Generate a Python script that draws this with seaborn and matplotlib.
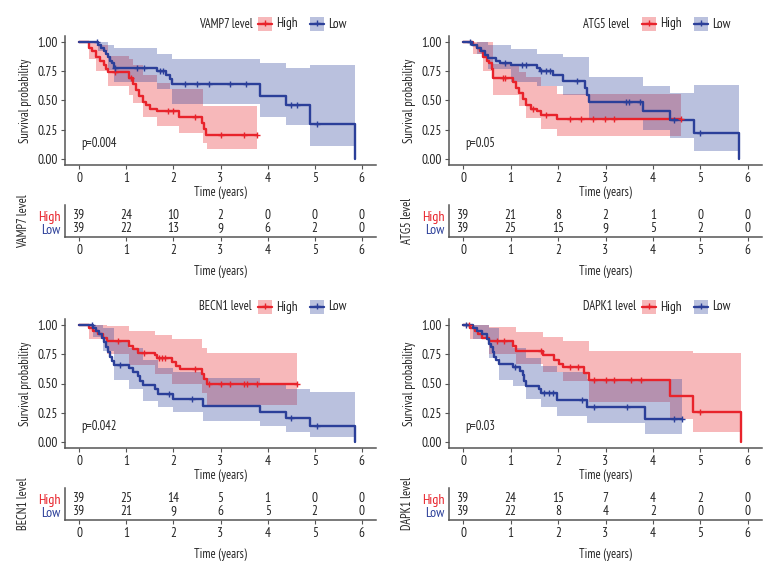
import numpy as np
import seaborn as sns
import matplotlib.pyplot as plt
from matplotlib.patches import Rectangle
from matplotlib.lines import Line2D

sns.set_theme(style="white")
plt.rcParams["font.family"] = ["PT Sans Narrow", "DejaVu Sans"]

RED = "#E8232B"
BLUE = "#2B3F99"
FS = 9

years = [0, 1, 2, 3, 4, 5, 6]

# ---- VAMP7 ----
vamp7_high_t = [0, 0.20, 0.28, 0.35, 0.45, 0.52, 0.58, 0.62, 1.05, 1.15, 1.20, 1.28, 1.35, 1.42, 1.50, 1.65, 2.12, 2.60, 2.65, 2.70, 3.78]
vamp7_high_s = [1.00, 0.95, 0.92, 0.87, 0.84, 0.80, 0.77, 0.74, 0.69, 0.64, 0.59, 0.54, 0.49, 0.46, 0.43, 0.41, 0.36, 0.31, 0.26, 0.21, 0.21]
vamp7_high_cens = [0.77, 1.10, 1.88, 2.00, 2.45, 3.00, 3.50, 3.78]
vamp7_high_ci_t = [0, 0.20, 0.35, 0.62, 1.05, 1.15, 1.35, 1.65, 1.92, 2.12, 2.62, 2.72, 3.78]
vamp7_high_lo = [1.00, 0.85, 0.75, 0.62, 0.55, 0.48, 0.36, 0.28, 0.28, 0.22, 0.14, 0.09, 0.09]
vamp7_high_hi = [1.00, 1.00, 0.97, 0.88, 0.85, 0.80, 0.72, 0.65, 0.60, 0.60, 0.455, 0.455, 0.455]

vamp7_low_t = [0, 0.40, 0.47, 0.53, 0.58, 0.62, 0.66, 0.70, 0.75, 1.65, 1.85, 1.92, 1.98, 3.83, 4.40, 4.90, 5.85]
vamp7_low_s = [1.00, 0.97, 0.95, 0.92, 0.90, 0.87, 0.84, 0.82, 0.78, 0.75, 0.72, 0.68, 0.64, 0.54, 0.46, 0.30, 0.00]
vamp7_low_cens = [0.38, 0.77, 1.23, 1.37, 1.71, 1.79, 2.25, 2.51, 2.76, 3.20, 3.55, 4.49, 4.63, 5.04]
vamp7_low_ci_t = [0, 0.40, 0.62, 0.75, 1.65, 1.98, 3.83, 4.40, 4.90, 5.85]
vamp7_low_lo = [1.00, 0.92, 0.76, 0.66, 0.60, 0.47, 0.36, 0.29, 0.11, 0.11]
vamp7_low_hi = [1.00, 1.00, 0.97, 0.95, 0.90, 0.85, 0.82, 0.78, 0.80, 0.80]

vamp7_risk_high = [39, 24, 10, 2, 0, 0, 0]
vamp7_risk_low = [39, 22, 13, 9, 6, 2, 0]

# ---- ATG5 ----
atg5_high_t = [0, 0.21, 0.30, 0.35, 0.42, 0.50, 0.55, 0.60, 0.63, 1.05, 1.12, 1.18, 1.25, 1.32, 1.42, 1.55, 1.65, 1.97, 4.60]
atg5_high_s = [1.00, 0.97, 0.95, 0.92, 0.87, 0.84, 0.82, 0.77, 0.69, 0.66, 0.61, 0.56, 0.51, 0.46, 0.43, 0.41, 0.38, 0.34, 0.34]
atg5_high_cens = [0.84, 0.88, 1.47, 1.75, 2.25, 2.49, 2.74, 2.98, 3.17, 4.60]
atg5_high_ci_t = [0, 0.21, 0.42, 0.63, 1.18, 1.32, 1.65, 1.97, 4.60]
atg5_high_lo = [1.00, 0.90, 0.75, 0.55, 0.45, 0.35, 0.26, 0.20, 0.20]
atg5_high_hi = [1.00, 1.00, 1.00, 0.81, 0.74, 0.70, 0.62, 0.555, 0.555]

atg5_low_t = [0, 0.18, 0.30, 0.38, 0.45, 0.52, 0.70, 0.78, 1.00, 1.55, 1.62, 1.90, 2.10, 2.56, 2.60, 2.65, 3.80, 4.35, 4.87, 5.82]
atg5_low_s = [1.00, 0.97, 0.95, 0.92, 0.89, 0.86, 0.84, 0.82, 0.80, 0.78, 0.755, 0.72, 0.67, 0.61, 0.55, 0.49, 0.41, 0.33, 0.22, 0.00]
atg5_low_cens = [0.15, 0.88, 1.23, 1.33, 1.65, 1.75, 1.82, 2.40, 3.44, 3.50, 3.72, 4.45, 5.00]
atg5_low_ci_t = [0, 0.30, 0.52, 1.00, 1.55, 2.10, 2.65, 3.80, 4.35, 4.87, 5.82]
atg5_low_lo = [1.00, 0.90, 0.77, 0.66, 0.62, 0.55, 0.35, 0.25, 0.18, 0.07, 0.07]
atg5_low_hi = [1.00, 1.00, 0.97, 0.94, 0.90, 0.87, 0.70, 0.62, 0.56, 0.635, 0.635]

atg5_risk_high = [39, 21, 8, 2, 1, 0, 0]
atg5_risk_low = [39, 25, 15, 9, 5, 2, 0]

# ---- BECN1 ----
becn1_high_t = [0, 0.20, 0.30, 0.40, 0.50, 0.60, 1.05, 1.15, 1.25, 1.60, 1.65, 1.97, 2.05, 2.15, 2.60, 2.65, 2.72, 4.62]
becn1_high_s = [1.00, 0.97, 0.95, 0.92, 0.89, 0.86, 0.82, 0.79, 0.76, 0.74, 0.72, 0.68, 0.65, 0.62, 0.58, 0.54, 0.50, 0.50]
becn1_high_cens = [0.82, 1.38, 1.70, 1.76, 1.82, 2.45, 2.75, 3.00, 3.20, 3.50, 3.56, 3.78, 4.62]
becn1_high_ci_t = [0, 0.20, 0.60, 1.05, 1.60, 1.97, 2.60, 2.72, 4.62]
becn1_high_lo = [1.00, 0.88, 0.75, 0.66, 0.58, 0.50, 0.42, 0.32, 0.32]
becn1_high_hi = [1.00, 1.00, 0.99, 0.95, 0.91, 0.88, 0.80, 0.76, 0.76]

becn1_low_t = [0, 0.30, 0.35, 0.42, 0.48, 0.53, 0.57, 0.61, 0.65, 0.70, 0.73, 1.05, 1.15, 1.25, 1.30, 1.35, 1.62, 1.68, 2.00, 2.62, 3.83, 4.40, 4.90, 5.85]
becn1_low_s = [1.00, 0.97, 0.95, 0.92, 0.89, 0.85, 0.81, 0.77, 0.73, 0.69, 0.66, 0.63, 0.60, 0.56, 0.52, 0.49, 0.45, 0.41, 0.37, 0.31, 0.26, 0.21, 0.14, 0.00]
becn1_low_cens = [0.28, 0.87, 1.90, 2.40, 4.50, 5.04]
becn1_low_ci_t = [0, 0.30, 0.50, 0.73, 1.05, 1.35, 1.68, 2.00, 2.62, 3.83, 4.40, 4.90, 5.85]
becn1_low_lo = [1.00, 0.90, 0.78, 0.53, 0.45, 0.35, 0.30, 0.26, 0.18, 0.14, 0.09, 0.04, 0.04]
becn1_low_hi = [1.00, 1.00, 0.97, 0.85, 0.80, 0.70, 0.63, 0.60, 0.55, 0.50, 0.45, 0.43, 0.43]

becn1_risk_high = [39, 25, 14, 5, 1, 0, 0]
becn1_risk_low = [39, 21, 9, 6, 5, 2, 0]

# ---- DAPK1 ----
dapk1_high_t = [0, 0.15, 0.25, 0.32, 0.40, 0.55, 1.05, 1.12, 1.68, 1.92, 2.02, 2.10, 2.55, 2.65, 4.35, 4.85, 5.85]
dapk1_high_s = [1.00, 0.97, 0.95, 0.92, 0.89, 0.86, 0.82, 0.78, 0.74, 0.70, 0.67, 0.64, 0.59, 0.53, 0.39, 0.26, 0.00]
dapk1_high_cens = [0.12, 0.72, 0.86, 1.65, 2.25, 2.41, 2.75, 3.00, 3.18, 3.53, 3.74, 5.00]
dapk1_high_ci_t = [0, 0.15, 0.55, 1.12, 1.68, 2.10, 2.65, 4.35, 4.85, 5.85]
dapk1_high_lo = [1.00, 0.88, 0.75, 0.67, 0.60, 0.52, 0.34, 0.20, 0.09, 0.09]
dapk1_high_hi = [1.00, 1.00, 0.985, 0.94, 0.90, 0.86, 0.78, 0.78, 0.76, 0.76]

dapk1_low_t = [0, 0.20, 0.30, 0.40, 0.50, 0.55, 0.58, 0.62, 0.65, 0.70, 0.75, 1.05, 1.20, 1.25, 1.28, 1.32, 1.60, 1.65, 1.98, 2.60, 3.83, 4.62]
dapk1_low_s = [1.00, 0.97, 0.95, 0.92, 0.88, 0.84, 0.81, 0.77, 0.73, 0.70, 0.67, 0.64, 0.61, 0.57, 0.52, 0.48, 0.45, 0.42, 0.36, 0.30, 0.20, 0.20]
dapk1_low_cens = [0.05, 1.10, 1.70, 1.80, 1.90, 2.50, 2.75, 3.45, 4.45, 4.62]
dapk1_low_ci_t = [0, 0.20, 0.55, 0.75, 1.05, 1.32, 1.65, 1.98, 2.60, 3.83, 4.62]
dapk1_low_lo = [1.00, 0.88, 0.72, 0.53, 0.48, 0.37, 0.30, 0.22, 0.16, 0.07, 0.07]
dapk1_low_hi = [1.00, 1.00, 0.97, 0.86, 0.80, 0.72, 0.65, 0.60, 0.54, 0.54, 0.54]

dapk1_risk_high = [39, 24, 15, 7, 4, 2, 0]
dapk1_risk_low = [39, 22, 8, 4, 2, 0, 0]

p_values = ["p=0.004", "p=0.05", "p=0.042", "p=0.03"]
genes = ["VAMP7", "ATG5", "BECN1", "DAPK1"]

W, H = 780, 576
fig = plt.figure(figsize=(7.8, 5.76), dpi=100)


def box(l, t, r, b):
    return [l / W, 1 - b / H, (r - l) / W, (b - t) / H]


def surv_at(t, s, x):
    idx = np.searchsorted(t, x, side="right") - 1
    return np.asarray(s)[idx]


def style_axis(ax):
    sns.despine(ax=ax)
    for sp in ["left", "bottom"]:
        ax.spines[sp].set_color("#555555")
        ax.spines[sp].set_linewidth(1.1)
    ax.tick_params(axis="both", colors="#555555", labelcolor="#222222",
                   labelsize=FS + 0.5, length=3, width=0.8, pad=2, bottom=True, left=True)


def draw_km(ax, groups, pval):
    for t, s, cens, ci_t, lo, hi, col in groups:
        ax.fill_between(ci_t, lo, hi, step="post", color=col, alpha=0.32, lw=0)
    for t, s, cens, ci_t, lo, hi, col in groups:
        sns.lineplot(x=t, y=s, drawstyle="steps-post", color=col, lw=1.7,
                     estimator=None, sort=False, ax=ax)
        sns.scatterplot(x=cens, y=surv_at(t, s, cens), marker="+", color=col,
                        s=16, linewidth=1.0, ax=ax, zorder=4)
    ax.set_xlim(-0.3, 6.3)
    ax.set_ylim(-0.05, 1.05)
    ax.set_xticks(years)
    ax.set_yticks([0, 0.25, 0.5, 0.75, 1.0])
    ax.set_yticklabels(["0.00", "0.25", "0.50", "0.75", "1.00"])
    ax.text(0.05, 0.13, pval, fontsize=FS, va="center", ha="left", color="#222222")
    ax.set_xlabel("Time (years)", fontsize=FS, labelpad=1)
    ax.set_ylabel("Survival probability", fontsize=FS, labelpad=4)
    style_axis(ax)


def draw_risk(ax, gene, high, low):
    for i, y in enumerate(years):
        ax.text(y, 2, str(high[i]), ha="center", va="center", fontsize=FS + 0.5, color="#222222")
        ax.text(y, 1, str(low[i]), ha="center", va="center", fontsize=FS + 0.5, color="#222222")
    ax.set_xlim(-0.3, 6.3)
    ax.set_ylim(0.37, 2.8)
    ax.set_xticks(years)
    ax.set_yticks([1, 2])
    ax.set_yticklabels(["Low", "High"])
    style_axis(ax)
    ax.tick_params(axis="y", length=0, pad=3, labelsize=FS + 1)
    ax.get_yticklabels()[0].set_color(BLUE)
    ax.get_yticklabels()[1].set_color(RED)
    ax.set_xlabel("Time (years)", fontsize=FS, labelpad=6)
    ax.set_ylabel(gene + " level", fontsize=FS, labelpad=6)


def draw_legend(ax_left, ax_top, gene):
    yc = ax_top - 12
    fig.text((ax_left + 134) / W, 1 - yc / H, gene + " level", fontsize=FS,
             ha="left", va="center", color="#222222")
    for kx, col, lab in [(ax_left + 193, RED, "High"), (ax_left + 245, BLUE, "Low")]:
        fig.add_artist(Rectangle((kx / W, 1 - (yc + 7) / H), 14 / W, 14 / H,
                                 transform=fig.transFigure, facecolor=col, alpha=0.32, lw=0))
        fig.add_artist(Line2D([kx / W, (kx + 14) / W], [1 - yc / H] * 2, color=col, lw=1.7,
                              transform=fig.transFigure))
        fig.add_artist(Line2D([(kx + 7) / W], [1 - (yc - 1) / H], color=col, marker="+",
                              ms=4, mew=1.0, transform=fig.transFigure))
        fig.text((kx + 18) / W, 1 - yc / H, lab, fontsize=FS + 0.5, ha="left", va="center",
                 color="#222222")


panels = [
    (genes[0], 65, 376, 0, [
        (vamp7_high_t, vamp7_high_s, vamp7_high_cens, vamp7_high_ci_t, vamp7_high_lo, vamp7_high_hi, RED),
        (vamp7_low_t, vamp7_low_s, vamp7_low_cens, vamp7_low_ci_t, vamp7_low_lo, vamp7_low_hi, BLUE)],
     vamp7_risk_high, vamp7_risk_low, p_values[0]),
    (genes[1], 449, 762, 0, [
        (atg5_high_t, atg5_high_s, atg5_high_cens, atg5_high_ci_t, atg5_high_lo, atg5_high_hi, RED),
        (atg5_low_t, atg5_low_s, atg5_low_cens, atg5_low_ci_t, atg5_low_lo, atg5_low_hi, BLUE)],
     atg5_risk_high, atg5_risk_low, p_values[1]),
    (genes[2], 65, 376, 283, [
        (becn1_high_t, becn1_high_s, becn1_high_cens, becn1_high_ci_t, becn1_high_lo, becn1_high_hi, RED),
        (becn1_low_t, becn1_low_s, becn1_low_cens, becn1_low_ci_t, becn1_low_lo, becn1_low_hi, BLUE)],
     becn1_risk_high, becn1_risk_low, p_values[2]),
    (genes[3], 449, 762, 283, [
        (dapk1_high_t, dapk1_high_s, dapk1_high_cens, dapk1_high_ci_t, dapk1_high_lo, dapk1_high_hi, RED),
        (dapk1_low_t, dapk1_low_s, dapk1_low_cens, dapk1_low_ci_t, dapk1_low_lo, dapk1_low_hi, BLUE)],
     dapk1_risk_high, dapk1_risk_low, p_values[3]),
]

for gene, left, right, dy, groups, rh, rl, pval in panels:
    ax_km = fig.add_axes(box(left, 36 + dy, right, 165 + dy))
    draw_km(ax_km, groups, pval)
    ax_rt = fig.add_axes(box(left, 205 + dy, right, 237 + dy))
    draw_risk(ax_rt, gene, rh, rl)
    draw_legend(left, 36 + dy, gene)

fig.savefig("out.png", dpi=100, facecolor="white")
